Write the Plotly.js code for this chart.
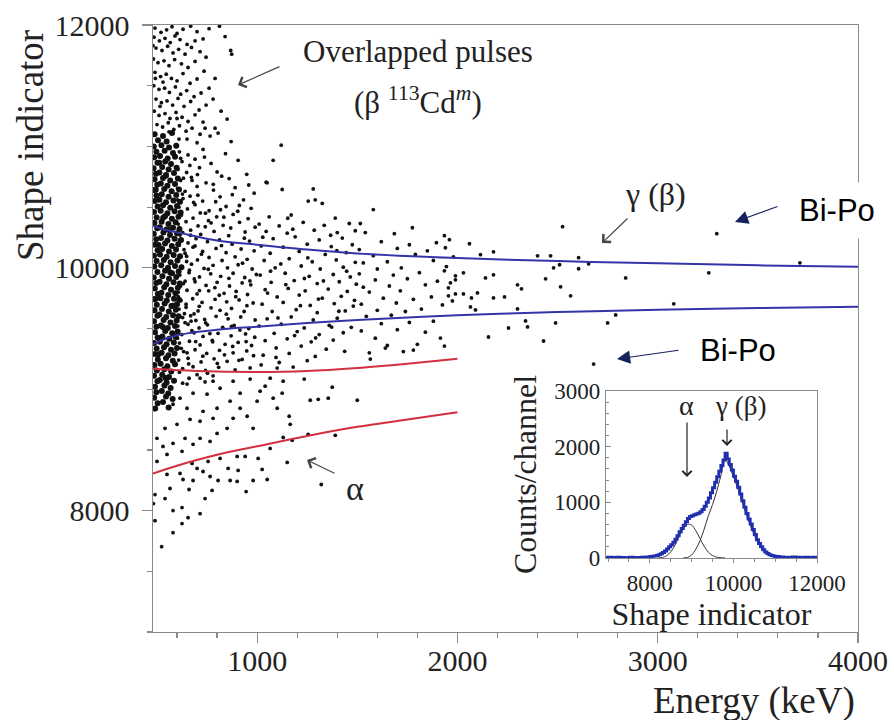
<!DOCTYPE html>
<html><head><meta charset="utf-8">
<script src="https://cdn.plot.ly/plotly-3.0.1.min.js"></script>
<style>html,body{margin:0;padding:0;background:#fff}#chart{width:894px;height:720px}</style>
</head><body><div id="chart"></div>
<script>
// ---- main scatter data: [Energy keV, Shape indicator] ----
const corePts = [
[488,11100],[530,11085],[575,11110],[505,11050],[548,11040],
[484,11000],[522,11010],[560,10990],[596,11005],[497,10955],[538,10965],[580,10945],
[486,10910],[515,10920],[553,10900],[590,10915],[502,10865],[541,10875],[570,10855],
[483,10820],[526,10830],[558,10810],[598,10825],[495,10775],[512,10785],[545,10765],[585,10780],
[488,10730],[530,10740],[566,10720],[604,10735],[501,10685],[519,10695],[552,10675],[590,10690],
[484,10640],[536,10650],[573,10630],[610,10645],[497,10595],[524,10605],[558,10585],[596,10600],
[489,10550],[512,10560],[545,10540],[582,10555],[615,10545],[503,10505],[530,10515],[566,10495],[600,10510],
[485,10460],[518,10470],[552,10450],[588,10465],[618,10455],[498,10415],[540,10425],[574,10405],[607,10420],
[487,10370],[523,10380],[557,10360],[593,10375],[501,10325],[514,10335],[547,10315],[580,10330],[612,10320],
[484,10280],[532,10290],[565,10270],[600,10285],[496,10235],[520,10245],[552,10225],[588,10240],[620,10230],
[489,10190],[540,10200],[574,10180],[606,10195],[503,10145],[526,10155],[560,10135],[595,10150],
[485,10100],[515,10110],[548,10090],[583,10105],[615,10095],[498,10055],[534,10065],[568,10045],[602,10060],
[487,10010],[521,10020],[555,10000],[590,10015],[622,10005],[502,9965],[540,9975],[575,9955],[608,9970],
[484,9920],[527,9930],[560,9910],[596,9925],[496,9875],[513,9885],[547,9865],[583,9880],[614,9870],
[489,9830],[536,9840],[570,9820],[604,9835],[504,9785],[522,9795],[556,9775],[592,9790],
[486,9740],[517,9750],[549,9730],[585,9745],[611,9735],[499,9695],[538,9705],[572,9685],[600,9700],
[488,9650],[525,9660],[559,9640],[594,9655],[502,9605],[512,9615],[546,9595],[580,9610],[608,9600],
[485,9560],[533,9570],[567,9550],[598,9565],[497,9515],[520,9525],[554,9505],[590,9520],
[490,9470],[541,9480],[576,9460],[603,9475],[503,9425],[527,9435],[561,9415],[593,9430],
[486,9380],[514,9390],[548,9370],[584,9385],[498,9335],[535,9345],[570,9325],[600,9340],
[489,9290],[523,9300],[557,9280],[588,9295],[504,9245],[545,9255],[579,9235],
[487,9200],[518,9210],[552,9190],[590,9205],[499,9155],[536,9165],[571,9145],
[485,9110],[526,9120],[560,9100],[502,9065],[514,9075],[548,9055],[585,9070],
[490,9020],[537,9030],[568,9010],[497,8975],[524,8985],[556,8965],
[486,8930],[545,8940],[578,8920],[503,8885],[530,8895],[491,8840],[558,8850],
[494,10642],[531,10412],[508,10188],[566,9962],[492,9742],[529,9512],[507,9288],[543,9092],[511,10866],[563,10312],[579,9688],[544,10758]
];
const overlapPts = [
[490,11975],[520,11940],[548,11960],[575,11985],[600,11930],[630,11965],[668,11990],[700,11945],[760,11970],[812,11990],
[485,11900],[512,11870],[540,11890],[566,11855],[590,11910],[615,11880],[650,11840],[690,11870],[730,11885],[840,11905],
[495,11810],[525,11790],[553,11825],[580,11770],[608,11800],[640,11760],[672,11815],[715,11780],[745,11735],[868,11790],[873,11760],
[482,11720],[505,11690],[535,11705],[560,11665],[588,11715],[622,11680],[655,11650],[690,11700],[735,11620],[790,11560],
[490,11610],[518,11575],[546,11595],[572,11560],[600,11540],[630,11600],[665,11520],[700,11555],[760,11480],
[484,11500],[510,11470],[538,11480],[562,11445],[592,11490],[618,11430],[648,11460],[685,11410],[720,11440],[780,11390],
[495,11390],[522,11360],[550,11375],[578,11340],[605,11395],[635,11330],[668,11370],[710,11300],[745,11340],[820,11290],
[486,11290],[510,11255],[540,11270],[565,11230],[595,11280],[625,11240],[655,11205],[690,11260],[730,11200],[790,11150],[850,11225],
[500,11180],[528,11160],[556,11195],[584,11140],[612,11170],[645,11125],[675,11150],[715,11100],[765,11085],[805,11110],[870,11040],[1120,11010],
[480,11830],[492,11560],[530,11530],[515,11330],[600,11230],[560,11120],[650,11060],[700,11030],[740,11150],[610,11060]
];
const midPts = [
[612,10955],[655,10930],[730,10975],[842,10940],[625,10875],[690,10895],[770,10860],[905,10885],
[605,10810],[648,10785],[712,10825],[800,10790],[948,10770],[618,10720],[672,10745],[745,10700],[860,10735],
[603,10655],[640,10630],[700,10670],[782,10640],[890,10660],[985,10615],[630,10570],[665,10590],[728,10550],[815,10585],[932,10560],
[610,10500],[652,10485],[690,10520],[760,10470],[845,10505],[970,10490],[622,10435],[680,10410],[742,10450],[798,10420],[880,10440],[955,10405],
[606,10360],[645,10380],[705,10345],[770,10370],[830,10350],[912,10375],[990,10335],[628,10290],[668,10310],[718,10275],[785,10300],[858,10265],[940,10295],
[612,10225],[655,10205],[695,10240],[752,10215],[812,10230],[875,10195],[962,10220],[635,10150],[680,10170],[728,10135],[795,10160],[845,10125],[920,10155],[985,10140],
[608,10080],[648,10095],[702,10065],[760,10085],[825,10060],[890,10090],[950,10070],[625,10010],[672,10030],[735,9995],[780,10020],[852,10000],[905,10025],[975,9990],
[614,9940],[660,9960],[712,9925],[768,9950],[818,9930],[880,9955],[938,9920],[996,9945],[632,9870],[690,9885],[745,9855],[800,9880],[862,9850],[925,9875],[968,9860],
[606,9800],[650,9815],[700,9785],[758,9810],[835,9790],[895,9805],[952,9780],[620,9730],[678,9745],[725,9715],[790,9740],[848,9720],[910,9735],[980,9710],
[610,9660],[645,9675],[705,9645],[770,9670],[815,9650],[872,9665],[935,9640],[628,9590],[668,9605],[738,9575],[795,9600],[855,9580],[918,9595],[990,9570],
[604,9520],[655,9535],[710,9505],[752,9530],[828,9510],[885,9525],[958,9500],[624,9450],[685,9465],[730,9435],[805,9460],[870,9440],[942,9455],
[612,9380],[662,9395],[715,9365],[778,9390],[840,9370],[905,9385],[972,9360],[633,9310],[690,9325],[748,9295],[812,9320],[880,9300],[948,9315],
[608,9240],[655,9255],[720,9225],[785,9250],[850,9230],[925,9245],[628,9170],[680,9185],[742,9155],[808,9180],[890,9160],[965,9175],
[615,10270],[640,10120],[662,9980],[618,9850],[645,9700],[670,9560],[602,9420],[650,9300],[675,10720],[602,10560],[690,10180],[640,9890],[685,9620],
[612,9140],[660,9090],[628,9050],[700,9120],[740,9060],[780,9110],
[618,10902],[664,10843],[702,10768],[737,10912],[781,10688],[823,10755],[876,10602],[911,10513],[958,10682],
[627,10607],[683,10538],[716,10452],[757,10388],[793,10544],[834,10417],[868,10328],[903,10466],[936,10244],
[611,10188],[648,10052],[686,9908],[722,10112],[756,9988],[789,9836],[822,10183],[859,9913],[893,9762],[927,10038],[964,9892],
[606,9763],[637,9622],[674,9482],[711,9683],[743,9547],[776,9402],[811,9774],[846,9618],[878,9352],[914,9487],[949,9688],[988,9428],
[621,9337],[658,9208],[693,9392],[729,9272],[764,9458],[801,9212],[837,9283],[872,9518],[909,9238],[945,9392],[982,9276],
[632,10738],[667,10268],[704,10598],[741,10338],[817,10478],[640,9548],[712,9812],[752,9132],[694,9566],
[1050,10700],[1280,10650],[1255,10550],[1325,10530],[1080,10885],[1045,10705],[1125,10645],[1290,10560],[1515,10365],
[1060,10420],[1170,10435],[1390,10410],[1010,10360],[1110,10345],[1230,10375],[1335,10350],[1460,10365],
[1045,10300],[1150,10285],[1285,10310],[1400,10290],[1490,10305],[1080,10240],[1190,10255],[1310,10230],[1425,10245],
[1020,10180],[1130,10170],[1250,10195],[1370,10175],[1475,10190],[1065,10120],[1210,10135],[1340,10110],[1445,10125],
[1035,10060],[1160,10075],[1275,10050],[1395,10065],[1490,10045],[1090,10000],[1220,10015],[1315,9990],[1430,10005],
[1015,9940],[1140,9955],[1260,9930],[1380,9945],[1465,9925],[1070,9880],[1185,9895],[1300,9870],[1410,9885],[1495,9865],
[1040,9820],[1155,9830],[1240,9810],[1355,9825],[1450,9805],[1100,9760],[1210,9775],[1325,9750],[1420,9765],
[1025,9700],[1130,9715],[1265,9690],[1385,9705],[1480,9685],[1075,9640],[1195,9655],[1300,9630],[1440,9645],
[1050,9580],[1170,9595],[1280,9570],[1400,9585],[1010,9520],[1120,9535],[1235,9505],[1360,9525],[1470,9510],
[1085,9460],[1200,9475],[1310,9450],[1430,9465],[1040,9400],[1150,9415],[1270,9390],[1380,9405],
[1095,9340],[1220,9355],[1345,9330],[1030,9280],[1160,9295],[1290,9270],[1110,9220],[1250,9235],[1020,9200],
[1028,10252],[1067,9972],[1104,9587],[1143,9862],[1178,10318],[1216,9688],[1253,10082],[1292,9422],[1331,9892],[1367,10268],[1408,9642],[1447,9972],[1486,9732],
[1052,9792],[1118,10032],[1187,9442],[1236,9912],[1306,9742],[1372,9512],[1437,9312],[1094,9262],[1153,10408],[1398,10142],
[1580,10480],[1775,10330],[1685,10281],[1540,10290],[1895,10207],[1620,10215],[1760,10190],
[1510,10150],[1700,10160],[1850,10140],[1580,10100],[1790,10110],[1980,10090],[1650,10050],[1880,10060],[1530,10040],[1720,10000],[1945,10010],[1600,9990],
[1510,9950],[1810,9960],[1680,9940],[1590,9900],[1750,9910],[1900,9890],[1660,9850],[1840,9860],[1530,9840],[1560,9800],[1715,9810],
[1630,9750],[1870,9760],[1780,9740],[1520,9700],[1695,9710],[1600,9650],[1820,9660],[1740,9640],[1545,9600],[1670,9610],
[1760,9550],[1880,9560],[1620,9540],[1520,9480],[1700,9490],[1840,9470],[1590,9420],[1650,9360],[1800,9370],[1560,9300],[1730,9310],
[1565,9248],[1640,9339],[1780,9322],[1915,9421]
];
const lowPts = [
[523,7703],[580,7818],[490,7917],[625,7893],[655,7942],[715,7975],[580,8000],[625,8025],[482,8058],[540,8099],[740,8099],[490,8132],
[945,8157],[660,8174],[775,8166],[565,8182],[1320,8215],[1050,8256],[980,8248],[865,8248],[900,8240],[805,8248],[630,8256],[680,8248],
[1150,8397],[1025,8339],[905,8331],[855,8347],[765,8281],[730,8322],[700,8347],[615,8306],[550,8298],[1005,8430],[940,8446],[900,8446],
[815,8430],[755,8405],[675,8389],[625,8488],[550,8463],[500,8405],[1065,8512],[1130,8603],[1175,8579],[1255,8628],[1390,8620],[1165,8711],
[1160,8777],[1100,8843],[1080,8926],[1125,8967],[1265,8909],[1305,8917],[1355,8926],[1375,9017],[1500,8909],[1235,9083],[1180,9182],[1100,9174],
[1040,9025],[1000,8901],[915,8843],[880,8760],[850,8678],[800,8636],[765,8570],[715,8595],[680,8546],[640,8595],[580,8554],[530,8529],[500,8595],
[715,8736],[780,8760],[665,8752],[600,8711],[540,8678],[980,8678],[950,8777],[865,8901],[800,8843],[730,8818],[650,8843],[580,8876],
[750,8959],[815,9008],[680,8967],[615,8926],[880,9066],[965,9083],[780,9066],[715,9091],[650,9042],[1015,8984],[915,8967],[1130,9066],[1065,9091]
];
const farPts = [
[2525,10339],[1935,10265],[1960,10232],[1940,10165],[2060,10198],[2180,10132],[2115,10108],[2400,10099],[2465,10099],[2605,10083],
[2655,10033],[2510,10025],[2480,10000],[2605,9992],[1935,9975],[2030,9959],[2180,9942],[2140,9917],[1990,9934],[2840,9917],
[2440,9909],[1990,9901],[1965,9876],[2300,9860],[2320,9827],[2515,9843],[1955,9835],[2030,9785],[1990,9785],[2100,9793],
[1955,9769],[2180,9752],[2235,9760],[2565,9769],[2070,9752],[1975,9727],[1925,9694],[2065,9678],[2090,9653],[2300,9661],
[3080,9703],[3255,9959],[3295,10281],[2790,9612],[2340,9562],[2490,9546],[2350,9513],[2255,9504],[2750,9546],[2155,9430],
[2430,9397],[1935,9355],[2680,9207],[3710,10041]
];
// ---- selection curves: [Energy keV, Shape indicator] ----
const blueUpper = [[480,10345],[550,10310],[650,10275],[800,10225],[1000,10190],[1250,10150],[1500,10118],[2000,10080],[2500,10055],[3000,10038],[3500,10020],[4000,10008]];
const blueLower = [[480,9370],[550,9420],[650,9460],[800,9490],[1000,9515],[1250,9545],[1500,9570],[2000,9610],[2500,9635],[3000,9655],[3500,9668],[4000,9680]];
const redUpper = [[480,9168],[700,9150],[1000,9142],[1250,9150],[1500,9175],[1750,9210],[2000,9250]];
const redLower = [[480,8306],[600,8370],[800,8460],[1000,8530],[1250,8615],[1500,8690],[1750,8750],[2000,8810]];
// ---- inset: histogram of shape indicator ----
const histX = [6900,7000,7100,7200,7300,7400,7500,7600,7700,7800,7900,8000,8050,8100,8150,8200,8250,8300,8350,8400,8450,8500,8550,8600,8650,8700,8750,8800,8850,8900,8950,9000,9050,9100,9150,9200,9250,9300,9350,9400,9450,9500,9550,9600,9650,9700,9750,9800,9850,9900,9950,10000,10050,10100,10150,10200,10250,10300,10350,10400,10450,10500,10550,10600,10650,10700,10750,10800,10850,10900,10950,11000,11100,11200,11300,11400,11500,11600,11700,11800,11900,12000];
const histY = [10,15,8,12,10,5,12,8,10,15,20,25,30,35,45,60,75,100,125,160,200,240,285,335,400,470,530,590,650,710,745,760,775,790,805,830,870,930,1000,1080,1170,1260,1360,1460,1560,1660,1760,1880,1780,1680,1580,1470,1380,1270,1150,1030,910,800,700,610,510,420,330,260,200,150,110,80,60,45,35,25,20,15,10,18,12,8,15,10,12,10];
const alphaFitX = [8200,8300,8400,8500,8600,8700,8800,8900,9000,9100,9200,9300,9400,9500,9600,9700,9800];
const alphaFitY = [2,10,40,110,230,390,530,605,590,490,350,210,105,45,15,5,1];
const gammaFitX = [8800,8900,9000,9100,9200,9300,9400,9500,9600,9700,9800,9900,10000,10100,10200,10300,10400,10500,10600,10700,10800,10900,11000,11100];
const gammaFitY = [2,10,55,160,310,520,760,960,1200,1480,1760,1650,1460,1260,1030,800,600,410,260,150,80,40,15,5];

const xs = a => a.map(p => p[0]);
const ys = a => a.map(p => p[1]);
const scatterAll = overlapPts.concat(midPts, lowPts, farPts);

const traces = [
  {type:'scatter', mode:'markers', x:xs(corePts), y:ys(corePts), marker:{size:6, color:'#111'}, hoverinfo:'skip'},
  {type:'scatter', mode:'markers', x:xs(scatterAll), y:ys(scatterAll), marker:{size:3.8, color:'#111'}, hoverinfo:'skip'},
  {type:'scatter', mode:'lines', x:xs(blueUpper), y:ys(blueUpper), line:{color:'#3434a8', width:2, shape:'spline'}},
  {type:'scatter', mode:'lines', x:xs(blueLower), y:ys(blueLower), line:{color:'#3434a8', width:2, shape:'spline'}},
  {type:'scatter', mode:'lines', x:xs(redUpper), y:ys(redUpper), line:{color:'#d2303e', width:2, shape:'spline'}},
  {type:'scatter', mode:'lines', x:xs(redLower), y:ys(redLower), line:{color:'#d2303e', width:2, shape:'spline'}},
  {type:'scatter', mode:'lines', x:alphaFitX, y:alphaFitY, xaxis:'x2', yaxis:'y2', line:{color:'#333', width:1, shape:'spline'}},
  {type:'scatter', mode:'lines', x:gammaFitX, y:gammaFitY, xaxis:'x2', yaxis:'y2', line:{color:'#333', width:1, shape:'spline'}},
  {type:'scatter', mode:'lines', x:histX, y:histY, xaxis:'x2', yaxis:'y2', line:{color:'#1f2fb0', width:3, shape:'hv'}}
];

// pixel helpers for annotation placement (plot area: x 153..858, y 25..632)
const PX = p => (p - 153) / 705;
const PY = p => (632 - p) / 607;
const serif = '"Liberation Serif", "Times New Roman", Times, serif';
const sans = '"Liberation Sans", Arial, sans-serif';
const txt = (cx, cy, text, size, extra) => Object.assign({x:PX(cx), y:PY(cy), xref:'paper', yref:'paper', xanchor:'center', yanchor:'middle', showarrow:false, text:text, font:{family:serif, size:size, color:'#222'}}, extra || {});
const arr = (hx, hy, tx, ty, color, head, size, width) => ({x:PX(hx), y:PY(hy), xref:'paper', yref:'paper', ax:tx-hx, ay:ty-hy, axref:'pixel', ayref:'pixel', text:'', showarrow:true, arrowhead:head, arrowsize:size, arrowwidth:width, arrowcolor:color, standoff:0, startstandoff:0});

const annotations = [
  txt(30, 146, 'Shape indicator', 37, {textangle:-90}),
  txt(754, 701, 'Energy (keV)', 37),
  txt(418, 51, 'Overlapped pulses', 31),
  txt(418, 100, '(β <sup>113</sup>Cd<sup><i>m</i></sup>)', 31),
  arr(238, 85, 281, 66, '#444', 4, 1.8, 1.2),
  txt(655, 194, 'γ (β)', 32),
  arr(602, 243, 629, 217, '#444', 4, 1.8, 1.2),
  txt(355, 488, 'α', 34),
  arr(307, 460, 336, 474, '#444', 4, 1.8, 1.2),
  txt(837, 210, 'Bi-Po', 31, {font:{family:sans, size:31, color:'#000'}, bgcolor:'#fff', borderpad:10}),
  arr(735, 222, 779, 206, '#14215a', 2, 2.4, 1.1),
  txt(738, 351, 'Bi-Po', 31, {font:{family:sans, size:31, color:'#000'}}),
  arr(617, 359, 680, 350, '#14215a', 2, 2.4, 1.1),
  txt(686, 406, 'α', 28),
  txt(740, 406, 'γ (β)', 27),
  arr(687, 477, 687, 421, '#222', 4, 1.5, 1.2),
  arr(727, 446, 727, 428, '#222', 4, 1.5, 1.2)
];

const axColor = '#8a8a8a';
const layout = {
  width:894, height:720,
  margin:{l:153, r:36, t:25, b:88},
  paper_bgcolor:'#fff', plot_bgcolor:'#fff',
  showlegend:false,
  separators:'.',
  font:{family:serif, color:'#222'},
  xaxis:{domain:[0,1], range:[480,4000], tick0:0, dtick:1000, tickformat:'d', ticks:'outside', ticklen:10, tickwidth:1.2, tickcolor:axColor,
         showline:true, linecolor:axColor, linewidth:1.4, mirror:true, showgrid:false, zeroline:false,
         tickfont:{family:serif, size:30, color:'#222'}, ticklabelstandoff:-8,
         minor:{tick0:0, dtick:200, ticks:'outside', ticklen:5, tickwidth:1.2, tickcolor:axColor, showgrid:false}},
  yaxis:{domain:[0,1], range:[7000,12000], tick0:0, dtick:2000, tickformat:'d', ticks:'outside', ticklen:10, tickwidth:1.2, tickcolor:axColor,
         showline:true, linecolor:axColor, linewidth:1.4, mirror:true, showgrid:false, zeroline:false,
         tickfont:{family:serif, size:30, color:'#222'}, ticklabelstandoff:6,
         minor:{tick0:0, dtick:500, ticks:'outside', ticklen:5, tickwidth:1.2, tickcolor:axColor, showgrid:false}},
  xaxis2:{domain:[PX(606), PX(817)], anchor:'y2', range:[6950,12000], tick0:0, dtick:2000, tickformat:'d', ticks:'outside', ticklen:4, tickwidth:1, tickcolor:axColor,
          showline:true, linecolor:axColor, linewidth:1.2, mirror:true, showgrid:false, zeroline:false,
          tickfont:{family:serif, size:23, color:'#222'},
          title:{text:'Shape indicator', font:{family:serif, size:32, color:'#222'}, standoff:0},
          minor:{tick0:0, dtick:500, ticks:'outside', ticklen:3, tickcolor:axColor, showgrid:false}},
  yaxis2:{domain:[PY(558), PY(391)], anchor:'x2', range:[0,3000], tick0:0, dtick:1000, tickformat:'d', ticks:'inside', ticklen:5, tickwidth:1, tickcolor:axColor,
          showline:true, linecolor:axColor, linewidth:1.2, mirror:true, showgrid:false, zeroline:false,
          tickfont:{family:serif, size:23, color:'#222'},
          title:{text:'Counts/channel', font:{family:serif, size:32, color:'#222'}, standoff:8},
          minor:{tick0:0, dtick:200, ticks:'inside', ticklen:3, tickcolor:axColor, showgrid:false}},
  annotations:annotations
};

Plotly.newPlot('chart', traces, layout, {displayModeBar:false, staticPlot:true});
</script>
</body></html>
